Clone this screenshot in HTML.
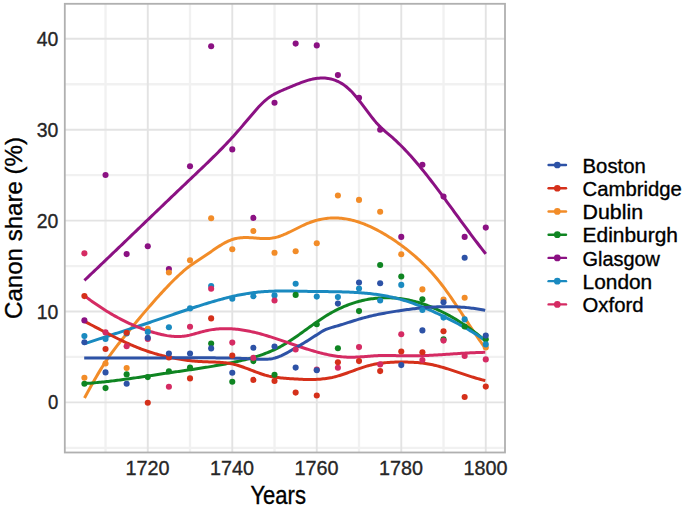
<!DOCTYPE html>
<html><head><meta charset="utf-8"><style>
html,body{margin:0;padding:0;background:#fff;}
svg{display:block;}
text{font-family:"Liberation Sans",sans-serif;}
</style></head><body>
<svg width="685" height="506" viewBox="0 0 685 506">
<rect width="685" height="506" fill="#fff"/>

<line x1="105.53" y1="3.8" x2="105.53" y2="452.5" stroke="#f1f1f1" stroke-width="2.3"/>
<line x1="190.02" y1="3.8" x2="190.02" y2="452.5" stroke="#f1f1f1" stroke-width="2.3"/>
<line x1="274.52" y1="3.8" x2="274.52" y2="452.5" stroke="#f1f1f1" stroke-width="2.3"/>
<line x1="359.02" y1="3.8" x2="359.02" y2="452.5" stroke="#f1f1f1" stroke-width="2.3"/>
<line x1="443.52" y1="3.8" x2="443.52" y2="452.5" stroke="#f1f1f1" stroke-width="2.3"/>
<line x1="64.8" y1="447.85" x2="505.0" y2="447.85" stroke="#f1f1f1" stroke-width="2.3"/>
<line x1="64.8" y1="356.95" x2="505.0" y2="356.95" stroke="#f1f1f1" stroke-width="2.3"/>
<line x1="64.8" y1="266.05" x2="505.0" y2="266.05" stroke="#f1f1f1" stroke-width="2.3"/>
<line x1="64.8" y1="175.15" x2="505.0" y2="175.15" stroke="#f1f1f1" stroke-width="2.3"/>
<line x1="64.8" y1="84.25" x2="505.0" y2="84.25" stroke="#f1f1f1" stroke-width="2.3"/>
<line x1="147.78" y1="3.8" x2="147.78" y2="452.5" stroke="#e3e3e3" stroke-width="1.9"/>
<line x1="232.28" y1="3.8" x2="232.28" y2="452.5" stroke="#e3e3e3" stroke-width="1.9"/>
<line x1="316.77" y1="3.8" x2="316.77" y2="452.5" stroke="#e3e3e3" stroke-width="1.9"/>
<line x1="401.27" y1="3.8" x2="401.27" y2="452.5" stroke="#e3e3e3" stroke-width="1.9"/>
<line x1="485.77" y1="3.8" x2="485.77" y2="452.5" stroke="#e3e3e3" stroke-width="1.9"/>
<line x1="64.8" y1="402.40" x2="505.0" y2="402.40" stroke="#e3e3e3" stroke-width="1.9"/>
<line x1="64.8" y1="311.50" x2="505.0" y2="311.50" stroke="#e3e3e3" stroke-width="1.9"/>
<line x1="64.8" y1="220.60" x2="505.0" y2="220.60" stroke="#e3e3e3" stroke-width="1.9"/>
<line x1="64.8" y1="129.70" x2="505.0" y2="129.70" stroke="#e3e3e3" stroke-width="1.9"/>
<line x1="64.8" y1="38.80" x2="505.0" y2="38.80" stroke="#e3e3e3" stroke-width="1.9"/>
<path d="M84.40,280.40 L85.90,278.98 L87.41,277.56 L88.91,276.13 L90.41,274.71 L91.92,273.28 L93.42,271.85 L94.92,270.42 L96.43,268.99 L97.93,267.56 L99.43,266.13 L100.94,264.70 L102.44,263.26 L103.94,261.83 L105.45,260.39 L106.95,258.96 L108.45,257.52 L109.96,256.08 L111.46,254.64 L112.96,253.20 L114.47,251.76 L115.97,250.32 L117.47,248.88 L118.98,247.44 L120.48,246.00 L121.98,244.56 L123.49,243.11 L124.99,241.67 L126.49,240.23 L128.00,238.78 L129.50,237.34 L131.00,235.89 L132.51,234.45 L134.01,233.01 L135.51,231.56 L137.02,230.12 L138.52,228.67 L140.02,227.23 L141.53,225.78 L143.03,224.34 L144.53,222.89 L146.04,221.45 L147.54,220.00 L149.04,218.56 L150.55,217.11 L152.05,215.67 L153.56,214.23 L155.06,212.78 L156.56,211.34 L158.07,209.90 L159.57,208.46 L161.07,207.01 L162.58,205.57 L164.08,204.13 L165.58,202.69 L167.09,201.25 L168.59,199.82 L170.09,198.38 L171.60,196.94 L173.10,195.50 L174.60,194.07 L176.11,192.63 L177.61,191.20 L179.11,189.77 L180.62,188.33 L182.12,186.90 L183.62,185.47 L185.13,184.04 L186.63,182.62 L188.13,181.19 L189.64,179.76 L191.14,178.34 L192.64,176.92 L194.15,175.49 L195.65,174.07 L197.15,172.64 L198.66,171.21 L200.16,169.78 L201.66,168.35 L203.17,166.91 L204.67,165.47 L206.17,164.02 L207.68,162.57 L209.18,161.11 L210.68,159.65 L212.19,158.17 L213.69,156.69 L215.19,155.20 L216.70,153.70 L218.20,152.19 L219.70,150.67 L221.21,149.14 L222.71,147.59 L224.21,146.04 L225.72,144.47 L227.22,142.88 L228.72,141.28 L230.23,139.67 L231.73,138.03 L233.23,136.39 L234.74,134.72 L236.24,133.04 L237.74,131.34 L239.25,129.62 L240.75,127.88 L242.25,126.12 L243.76,124.34 L245.26,122.56 L246.76,120.76 L248.27,118.97 L249.77,117.19 L251.27,115.41 L252.78,113.65 L254.28,111.91 L255.78,110.19 L257.29,108.51 L258.79,106.86 L260.29,105.27 L261.80,103.73 L263.30,102.26 L264.80,100.87 L266.31,99.56 L267.81,98.34 L269.31,97.23 L270.82,96.22 L272.32,95.30 L273.82,94.45 L275.33,93.65 L276.83,92.88 L278.33,92.15 L279.84,91.45 L281.34,90.76 L282.84,90.10 L284.35,89.46 L285.85,88.82 L287.36,88.20 L288.86,87.58 L290.36,86.96 L291.87,86.34 L293.37,85.72 L294.87,85.10 L296.38,84.48 L297.88,83.88 L299.38,83.28 L300.89,82.70 L302.39,82.14 L303.89,81.61 L305.40,81.10 L306.90,80.62 L308.40,80.17 L309.91,79.76 L311.41,79.38 L312.91,79.05 L314.42,78.75 L315.92,78.50 L317.42,78.30 L318.93,78.15 L320.43,78.05 L321.93,78.00 L323.44,78.01 L324.94,78.07 L326.44,78.20 L327.95,78.39 L329.45,78.65 L330.95,78.98 L332.46,79.38 L333.96,79.85 L335.46,80.39 L336.97,81.02 L338.47,81.72 L339.97,82.51 L341.48,83.38 L342.98,84.34 L344.48,85.39 L345.99,86.53 L347.49,87.77 L348.99,89.10 L350.50,90.54 L352.00,92.07 L353.50,93.70 L355.01,95.42 L356.51,97.22 L358.01,99.08 L359.52,100.99 L361.02,102.95 L362.52,104.94 L364.03,106.94 L365.53,108.96 L367.03,110.97 L368.54,112.97 L370.04,114.95 L371.54,116.89 L373.05,118.78 L374.55,120.61 L376.05,122.38 L377.56,124.06 L379.06,125.65 L380.56,127.16 L382.07,128.59 L383.57,129.97 L385.07,131.30 L386.58,132.60 L388.08,133.88 L389.58,135.16 L391.09,136.44 L392.59,137.74 L394.09,139.08 L395.60,140.45 L397.10,141.86 L398.60,143.30 L400.11,144.77 L401.61,146.27 L403.11,147.80 L404.62,149.36 L406.12,150.94 L407.62,152.56 L409.13,154.20 L410.63,155.87 L412.13,157.56 L413.64,159.28 L415.14,161.02 L416.64,162.79 L418.15,164.57 L419.65,166.38 L421.16,168.20 L422.66,170.05 L424.16,171.91 L425.67,173.79 L427.17,175.69 L428.67,177.61 L430.18,179.54 L431.68,181.48 L433.18,183.44 L434.69,185.41 L436.19,187.39 L437.69,189.38 L439.20,191.38 L440.70,193.39 L442.20,195.41 L443.71,197.44 L445.21,199.48 L446.71,201.52 L448.22,203.56 L449.72,205.61 L451.22,207.66 L452.73,209.72 L454.23,211.78 L455.73,213.84 L457.24,215.89 L458.74,217.95 L460.24,220.01 L461.75,222.06 L463.25,224.11 L464.75,226.16 L466.26,228.20 L467.76,230.24 L469.26,232.26 L470.77,234.29 L472.27,236.30 L473.77,238.30 L475.28,240.30 L476.78,242.28 L478.28,244.26 L479.79,246.22 L481.29,248.16 L482.79,250.10 L484.30,252.01 L485.80,253.92" fill="none" stroke="#8b1183" stroke-width="3.0" stroke-linecap="butt" stroke-linejoin="round"/>
<path d="M84.50,397.92 L86.00,395.17 L87.50,392.43 L89.01,389.71 L90.51,387.00 L92.01,384.32 L93.51,381.66 L95.01,379.03 L96.51,376.43 L98.02,373.88 L99.52,371.36 L101.02,368.89 L102.52,366.47 L104.02,364.11 L105.53,361.80 L107.03,359.56 L108.53,357.37 L110.03,355.24 L111.53,353.15 L113.04,351.11 L114.54,349.11 L116.04,347.14 L117.54,345.20 L119.04,343.28 L120.54,341.39 L122.05,339.50 L123.55,337.63 L125.05,335.76 L126.55,333.90 L128.05,332.04 L129.56,330.19 L131.06,328.35 L132.56,326.51 L134.06,324.69 L135.56,322.86 L137.07,321.05 L138.57,319.25 L140.07,317.45 L141.57,315.66 L143.07,313.89 L144.57,312.12 L146.08,310.36 L147.58,308.61 L149.08,306.87 L150.58,305.15 L152.08,303.43 L153.59,301.73 L155.09,300.03 L156.59,298.35 L158.09,296.68 L159.59,295.03 L161.10,293.38 L162.60,291.75 L164.10,290.13 L165.60,288.53 L167.10,286.94 L168.60,285.37 L170.11,283.81 L171.61,282.28 L173.11,280.77 L174.61,279.28 L176.11,277.82 L177.62,276.39 L179.12,274.98 L180.62,273.61 L182.12,272.27 L183.62,270.96 L185.13,269.69 L186.63,268.46 L188.13,267.27 L189.63,266.13 L191.13,265.02 L192.63,263.96 L194.14,262.92 L195.64,261.91 L197.14,260.91 L198.64,259.93 L200.14,258.96 L201.65,257.98 L203.15,257.01 L204.65,256.02 L206.15,255.01 L207.65,253.99 L209.16,252.96 L210.66,251.92 L212.16,250.88 L213.66,249.85 L215.16,248.83 L216.66,247.82 L218.17,246.83 L219.67,245.87 L221.17,244.94 L222.67,244.05 L224.17,243.19 L225.68,242.38 L227.18,241.63 L228.68,240.92 L230.18,240.28 L231.68,239.71 L233.19,239.20 L234.69,238.77 L236.19,238.42 L237.69,238.13 L239.19,237.91 L240.69,237.75 L242.20,237.63 L243.70,237.57 L245.20,237.54 L246.70,237.55 L248.20,237.60 L249.71,237.67 L251.21,237.75 L252.71,237.86 L254.21,237.97 L255.71,238.08 L257.22,238.20 L258.72,238.31 L260.22,238.40 L261.72,238.48 L263.22,238.54 L264.72,238.56 L266.23,238.56 L267.73,238.51 L269.23,238.42 L270.73,238.28 L272.23,238.09 L273.74,237.83 L275.24,237.51 L276.74,237.13 L278.24,236.70 L279.74,236.21 L281.25,235.68 L282.75,235.10 L284.25,234.48 L285.75,233.84 L287.25,233.16 L288.75,232.46 L290.26,231.73 L291.76,230.99 L293.26,230.25 L294.76,229.49 L296.26,228.73 L297.77,227.97 L299.27,227.22 L300.77,226.48 L302.27,225.76 L303.77,225.06 L305.28,224.38 L306.78,223.73 L308.28,223.11 L309.78,222.53 L311.28,221.99 L312.78,221.47 L314.29,221.00 L315.79,220.55 L317.29,220.14 L318.79,219.77 L320.29,219.43 L321.80,219.13 L323.30,218.86 L324.80,218.62 L326.30,218.42 L327.80,218.25 L329.31,218.12 L330.81,218.02 L332.31,217.95 L333.81,217.92 L335.31,217.92 L336.81,217.96 L338.32,218.03 L339.82,218.13 L341.32,218.27 L342.82,218.44 L344.32,218.64 L345.83,218.87 L347.33,219.13 L348.83,219.42 L350.33,219.75 L351.83,220.10 L353.34,220.48 L354.84,220.89 L356.34,221.33 L357.84,221.79 L359.34,222.28 L360.84,222.80 L362.35,223.35 L363.85,223.92 L365.35,224.51 L366.85,225.14 L368.35,225.78 L369.86,226.45 L371.36,227.15 L372.86,227.86 L374.36,228.60 L375.86,229.36 L377.37,230.15 L378.87,230.95 L380.37,231.78 L381.87,232.63 L383.37,233.49 L384.87,234.38 L386.38,235.28 L387.88,236.21 L389.38,237.15 L390.88,238.11 L392.38,239.09 L393.89,240.08 L395.39,241.10 L396.89,242.13 L398.39,243.18 L399.89,244.25 L401.40,245.35 L402.90,246.46 L404.40,247.60 L405.90,248.75 L407.40,249.93 L408.90,251.13 L410.41,252.36 L411.91,253.61 L413.41,254.88 L414.91,256.18 L416.41,257.50 L417.92,258.84 L419.42,260.22 L420.92,261.62 L422.42,263.05 L423.92,264.51 L425.43,266.00 L426.93,267.52 L428.43,269.08 L429.93,270.68 L431.43,272.31 L432.93,273.99 L434.44,275.70 L435.94,277.46 L437.44,279.27 L438.94,281.12 L440.44,283.02 L441.95,284.96 L443.45,286.95 L444.95,288.97 L446.45,291.03 L447.95,293.12 L449.46,295.25 L450.96,297.40 L452.46,299.58 L453.96,301.79 L455.46,304.01 L456.96,306.25 L458.47,308.50 L459.97,310.77 L461.47,313.05 L462.97,315.33 L464.47,317.62 L465.98,319.90 L467.48,322.19 L468.98,324.47 L470.48,326.75 L471.98,329.01 L473.49,331.26 L474.99,333.50 L476.49,335.72 L477.99,337.92 L479.49,340.10 L480.99,342.24 L482.50,344.37 L484.00,346.45 L485.50,348.51" fill="none" stroke="#f28c28" stroke-width="3.0" stroke-linecap="butt" stroke-linejoin="round"/>
<path d="M84.20,383.56 L85.70,383.46 L87.21,383.36 L88.71,383.25 L90.21,383.13 L91.71,383.01 L93.22,382.89 L94.72,382.76 L96.22,382.63 L97.73,382.49 L99.23,382.34 L100.73,382.20 L102.24,382.04 L103.74,381.89 L105.24,381.73 L106.74,381.56 L108.25,381.40 L109.75,381.23 L111.25,381.05 L112.76,380.87 L114.26,380.69 L115.76,380.51 L117.27,380.32 L118.77,380.13 L120.27,379.93 L121.77,379.74 L123.28,379.54 L124.78,379.33 L126.28,379.13 L127.79,378.92 L129.29,378.72 L130.79,378.50 L132.30,378.29 L133.80,378.08 L135.30,377.86 L136.80,377.64 L138.31,377.43 L139.81,377.21 L141.31,376.98 L142.82,376.76 L144.32,376.54 L145.82,376.31 L147.33,376.09 L148.83,375.86 L150.33,375.64 L151.83,375.41 L153.34,375.19 L154.84,374.96 L156.34,374.73 L157.85,374.51 L159.35,374.28 L160.85,374.05 L162.36,373.83 L163.86,373.60 L165.36,373.38 L166.86,373.16 L168.37,372.93 L169.87,372.71 L171.37,372.49 L172.88,372.27 L174.38,372.06 L175.88,371.84 L177.39,371.62 L178.89,371.40 L180.39,371.19 L181.89,370.97 L183.40,370.75 L184.90,370.53 L186.40,370.31 L187.91,370.10 L189.41,369.88 L190.91,369.65 L192.42,369.43 L193.92,369.21 L195.42,368.98 L196.92,368.76 L198.43,368.53 L199.93,368.30 L201.43,368.07 L202.94,367.83 L204.44,367.59 L205.94,367.35 L207.45,367.11 L208.95,366.86 L210.45,366.62 L211.95,366.36 L213.46,366.11 L214.96,365.85 L216.46,365.59 L217.97,365.32 L219.47,365.05 L220.97,364.77 L222.48,364.49 L223.98,364.21 L225.48,363.92 L226.98,363.63 L228.49,363.33 L229.99,363.03 L231.49,362.72 L233.00,362.41 L234.50,362.09 L236.00,361.76 L237.51,361.43 L239.01,361.09 L240.51,360.75 L242.01,360.40 L243.52,360.04 L245.02,359.67 L246.52,359.30 L248.03,358.91 L249.53,358.51 L251.03,358.11 L252.54,357.68 L254.04,357.25 L255.54,356.80 L257.04,356.34 L258.55,355.86 L260.05,355.37 L261.55,354.86 L263.06,354.33 L264.56,353.78 L266.06,353.21 L267.57,352.62 L269.07,352.01 L270.57,351.38 L272.07,350.72 L273.58,350.04 L275.08,349.34 L276.58,348.61 L278.09,347.86 L279.59,347.08 L281.09,346.27 L282.60,345.43 L284.10,344.56 L285.60,343.67 L287.10,342.75 L288.61,341.80 L290.11,340.83 L291.61,339.84 L293.12,338.83 L294.62,337.80 L296.12,336.76 L297.63,335.71 L299.13,334.64 L300.63,333.56 L302.13,332.48 L303.64,331.39 L305.14,330.30 L306.64,329.21 L308.15,328.12 L309.65,327.03 L311.15,325.94 L312.66,324.87 L314.16,323.80 L315.66,322.74 L317.16,321.69 L318.67,320.66 L320.17,319.64 L321.67,318.64 L323.18,317.66 L324.68,316.71 L326.18,315.78 L327.69,314.87 L329.19,313.98 L330.69,313.13 L332.19,312.29 L333.70,311.48 L335.20,310.69 L336.70,309.93 L338.21,309.19 L339.71,308.48 L341.21,307.79 L342.72,307.12 L344.22,306.48 L345.72,305.86 L347.22,305.26 L348.73,304.69 L350.23,304.14 L351.73,303.61 L353.24,303.11 L354.74,302.63 L356.24,302.17 L357.75,301.73 L359.25,301.32 L360.75,300.93 L362.25,300.57 L363.76,300.22 L365.26,299.90 L366.76,299.61 L368.27,299.33 L369.77,299.08 L371.27,298.85 L372.78,298.64 L374.28,298.45 L375.78,298.28 L377.28,298.14 L378.79,298.02 L380.29,297.92 L381.79,297.84 L383.30,297.79 L384.80,297.76 L386.30,297.74 L387.81,297.75 L389.31,297.78 L390.81,297.83 L392.31,297.91 L393.82,298.00 L395.32,298.12 L396.82,298.25 L398.33,298.41 L399.83,298.59 L401.33,298.79 L402.84,299.00 L404.34,299.24 L405.84,299.51 L407.34,299.79 L408.85,300.09 L410.35,300.41 L411.85,300.75 L413.36,301.11 L414.86,301.50 L416.36,301.90 L417.87,302.32 L419.37,302.76 L420.87,303.22 L422.37,303.71 L423.88,304.21 L425.38,304.73 L426.88,305.27 L428.39,305.83 L429.89,306.41 L431.39,307.01 L432.90,307.62 L434.40,308.26 L435.90,308.92 L437.40,309.59 L438.91,310.29 L440.41,311.00 L441.91,311.73 L443.42,312.48 L444.92,313.25 L446.42,314.04 L447.93,314.84 L449.43,315.67 L450.93,316.51 L452.43,317.37 L453.94,318.25 L455.44,319.14 L456.94,320.06 L458.45,320.99 L459.95,321.94 L461.45,322.91 L462.96,323.90 L464.46,324.90 L465.96,325.92 L467.46,326.96 L468.97,328.02 L470.47,329.09 L471.97,330.18 L473.48,331.29 L474.98,332.41 L476.48,333.55 L477.99,334.71 L479.49,335.89 L480.99,337.08 L482.49,338.29 L484.00,339.52 L485.50,340.76" fill="none" stroke="#0f8522" stroke-width="3.0" stroke-linecap="butt" stroke-linejoin="round"/>
<path d="M84.20,343.85 L85.70,343.35 L87.21,342.86 L88.71,342.37 L90.21,341.88 L91.71,341.39 L93.22,340.90 L94.72,340.41 L96.22,339.92 L97.73,339.43 L99.23,338.94 L100.73,338.45 L102.24,337.96 L103.74,337.47 L105.24,336.98 L106.74,336.49 L108.25,336.00 L109.75,335.51 L111.25,335.02 L112.76,334.53 L114.26,334.04 L115.76,333.55 L117.27,333.06 L118.77,332.57 L120.27,332.08 L121.77,331.59 L123.28,331.10 L124.78,330.61 L126.28,330.12 L127.79,329.63 L129.29,329.14 L130.79,328.65 L132.30,328.16 L133.80,327.67 L135.30,327.18 L136.80,326.69 L138.31,326.20 L139.81,325.70 L141.31,325.21 L142.82,324.71 L144.32,324.22 L145.82,323.72 L147.33,323.22 L148.83,322.71 L150.33,322.21 L151.83,321.70 L153.34,321.20 L154.84,320.69 L156.34,320.18 L157.85,319.67 L159.35,319.16 L160.85,318.65 L162.36,318.13 L163.86,317.62 L165.36,317.11 L166.86,316.60 L168.37,316.08 L169.87,315.57 L171.37,315.06 L172.88,314.55 L174.38,314.04 L175.88,313.53 L177.39,313.02 L178.89,312.51 L180.39,312.00 L181.89,311.50 L183.40,310.99 L184.90,310.49 L186.40,309.99 L187.91,309.49 L189.41,308.99 L190.91,308.50 L192.42,308.01 L193.92,307.52 L195.42,307.03 L196.92,306.55 L198.43,306.06 L199.93,305.59 L201.43,305.11 L202.94,304.64 L204.44,304.17 L205.94,303.71 L207.45,303.25 L208.95,302.79 L210.45,302.34 L211.95,301.89 L213.46,301.45 L214.96,301.01 L216.46,300.58 L217.97,300.16 L219.47,299.74 L220.97,299.33 L222.48,298.93 L223.98,298.53 L225.48,298.14 L226.98,297.76 L228.49,297.39 L229.99,297.02 L231.49,296.66 L233.00,296.32 L234.50,295.98 L236.00,295.65 L237.51,295.33 L239.01,295.02 L240.51,294.73 L242.01,294.44 L243.52,294.16 L245.02,293.90 L246.52,293.64 L248.03,293.40 L249.53,293.17 L251.03,292.96 L252.54,292.75 L254.04,292.56 L255.54,292.39 L257.04,292.22 L258.55,292.07 L260.05,291.93 L261.55,291.80 L263.06,291.69 L264.56,291.58 L266.06,291.49 L267.57,291.40 L269.07,291.33 L270.57,291.26 L272.07,291.20 L273.58,291.16 L275.08,291.12 L276.58,291.08 L278.09,291.06 L279.59,291.04 L281.09,291.03 L282.60,291.02 L284.10,291.02 L285.60,291.02 L287.10,291.03 L288.61,291.04 L290.11,291.06 L291.61,291.08 L293.12,291.10 L294.62,291.13 L296.12,291.15 L297.63,291.18 L299.13,291.21 L300.63,291.24 L302.13,291.27 L303.64,291.30 L305.14,291.33 L306.64,291.36 L308.15,291.39 L309.65,291.41 L311.15,291.44 L312.66,291.46 L314.16,291.48 L315.66,291.49 L317.16,291.51 L318.67,291.53 L320.17,291.54 L321.67,291.56 L323.18,291.57 L324.68,291.59 L326.18,291.60 L327.69,291.62 L329.19,291.63 L330.69,291.65 L332.19,291.67 L333.70,291.70 L335.20,291.72 L336.70,291.75 L338.21,291.78 L339.71,291.81 L341.21,291.85 L342.72,291.89 L344.22,291.93 L345.72,291.98 L347.22,292.04 L348.73,292.10 L350.23,292.16 L351.73,292.23 L353.24,292.30 L354.74,292.39 L356.24,292.47 L357.75,292.57 L359.25,292.67 L360.75,292.78 L362.25,292.90 L363.76,293.02 L365.26,293.15 L366.76,293.30 L368.27,293.45 L369.77,293.61 L371.27,293.77 L372.78,293.95 L374.28,294.14 L375.78,294.34 L377.28,294.55 L378.79,294.77 L380.29,295.00 L381.79,295.24 L383.30,295.50 L384.80,295.77 L386.30,296.04 L387.81,296.34 L389.31,296.64 L390.81,296.96 L392.31,297.29 L393.82,297.64 L395.32,298.00 L396.82,298.37 L398.33,298.76 L399.83,299.16 L401.33,299.58 L402.84,300.02 L404.34,300.46 L405.84,300.93 L407.34,301.41 L408.85,301.90 L410.35,302.40 L411.85,302.92 L413.36,303.45 L414.86,304.00 L416.36,304.55 L417.87,305.12 L419.37,305.70 L420.87,306.30 L422.37,306.90 L423.88,307.51 L425.38,308.14 L426.88,308.77 L428.39,309.42 L429.89,310.08 L431.39,310.74 L432.90,311.42 L434.40,312.10 L435.90,312.79 L437.40,313.49 L438.91,314.20 L440.41,314.91 L441.91,315.64 L443.42,316.37 L444.92,317.11 L446.42,317.85 L447.93,318.60 L449.43,319.36 L450.93,320.12 L452.43,320.89 L453.94,321.66 L455.44,322.45 L456.94,323.24 L458.45,324.04 L459.95,324.85 L461.45,325.67 L462.96,326.50 L464.46,327.34 L465.96,328.20 L467.46,329.07 L468.97,329.95 L470.47,330.84 L471.97,331.75 L473.48,332.67 L474.98,333.61 L476.48,334.57 L477.99,335.54 L479.49,336.53 L480.99,337.54 L482.49,338.56 L484.00,339.61 L485.50,340.68" fill="none" stroke="#1a8ac0" stroke-width="3.0" stroke-linecap="butt" stroke-linejoin="round"/>
<path d="M84.60,295.90 L86.10,297.03 L87.60,298.16 L89.10,299.26 L90.60,300.35 L92.10,301.43 L93.60,302.49 L95.11,303.54 L96.61,304.58 L98.11,305.60 L99.61,306.60 L101.11,307.59 L102.61,308.57 L104.11,309.53 L105.61,310.47 L107.11,311.40 L108.61,312.32 L110.11,313.22 L111.61,314.10 L113.11,314.97 L114.61,315.83 L116.12,316.67 L117.62,317.49 L119.12,318.30 L120.62,319.09 L122.12,319.87 L123.62,320.63 L125.12,321.38 L126.62,322.11 L128.12,322.82 L129.62,323.52 L131.12,324.20 L132.62,324.87 L134.12,325.52 L135.63,326.16 L137.13,326.78 L138.63,327.38 L140.13,327.96 L141.63,328.53 L143.13,329.09 L144.63,329.63 L146.13,330.15 L147.63,330.65 L149.13,331.14 L150.63,331.61 L152.13,332.06 L153.63,332.50 L155.14,332.92 L156.64,333.32 L158.14,333.71 L159.64,334.08 L161.14,334.43 L162.64,334.76 L164.14,335.08 L165.64,335.36 L167.14,335.63 L168.64,335.86 L170.14,336.06 L171.64,336.23 L173.14,336.37 L174.64,336.47 L176.15,336.53 L177.65,336.56 L179.15,336.53 L180.65,336.47 L182.15,336.35 L183.65,336.19 L185.15,335.97 L186.65,335.72 L188.15,335.42 L189.65,335.10 L191.15,334.74 L192.65,334.36 L194.15,333.97 L195.66,333.56 L197.16,333.14 L198.66,332.72 L200.16,332.31 L201.66,331.90 L203.16,331.50 L204.66,331.12 L206.16,330.77 L207.66,330.45 L209.16,330.15 L210.66,329.88 L212.16,329.64 L213.66,329.42 L215.17,329.23 L216.67,329.07 L218.17,328.94 L219.67,328.83 L221.17,328.74 L222.67,328.68 L224.17,328.64 L225.67,328.63 L227.17,328.64 L228.67,328.67 L230.17,328.73 L231.67,328.80 L233.17,328.90 L234.67,329.02 L236.18,329.16 L237.68,329.32 L239.18,329.50 L240.68,329.70 L242.18,329.92 L243.68,330.16 L245.18,330.41 L246.68,330.68 L248.18,330.97 L249.68,331.28 L251.18,331.60 L252.68,331.93 L254.18,332.28 L255.69,332.65 L257.19,333.02 L258.69,333.41 L260.19,333.81 L261.69,334.23 L263.19,334.65 L264.69,335.09 L266.19,335.53 L267.69,335.98 L269.19,336.45 L270.69,336.92 L272.19,337.39 L273.69,337.88 L275.20,338.37 L276.70,338.86 L278.20,339.36 L279.70,339.86 L281.20,340.37 L282.70,340.88 L284.20,341.40 L285.70,341.91 L287.20,342.43 L288.70,342.94 L290.20,343.46 L291.70,343.98 L293.20,344.49 L294.70,345.00 L296.21,345.51 L297.71,346.02 L299.21,346.53 L300.71,347.03 L302.21,347.52 L303.71,348.01 L305.21,348.50 L306.71,348.97 L308.21,349.44 L309.71,349.90 L311.21,350.36 L312.71,350.80 L314.21,351.24 L315.72,351.66 L317.22,352.08 L318.72,352.48 L320.22,352.87 L321.72,353.25 L323.22,353.61 L324.72,353.96 L326.22,354.30 L327.72,354.62 L329.22,354.93 L330.72,355.22 L332.22,355.49 L333.72,355.74 L335.23,355.98 L336.73,356.20 L338.23,356.40 L339.73,356.58 L341.23,356.74 L342.73,356.87 L344.23,356.99 L345.73,357.08 L347.23,357.15 L348.73,357.20 L350.23,357.22 L351.73,357.22 L353.23,357.20 L354.73,357.17 L356.24,357.11 L357.74,357.04 L359.24,356.96 L360.74,356.86 L362.24,356.76 L363.74,356.65 L365.24,356.53 L366.74,356.42 L368.24,356.30 L369.74,356.18 L371.24,356.07 L372.74,355.96 L374.24,355.86 L375.75,355.77 L377.25,355.69 L378.75,355.62 L380.25,355.57 L381.75,355.53 L383.25,355.51 L384.75,355.49 L386.25,355.49 L387.75,355.50 L389.25,355.51 L390.75,355.53 L392.25,355.55 L393.75,355.58 L395.26,355.61 L396.76,355.65 L398.26,355.68 L399.76,355.72 L401.26,355.75 L402.76,355.78 L404.26,355.80 L405.76,355.83 L407.26,355.84 L408.76,355.85 L410.26,355.85 L411.76,355.84 L413.26,355.83 L414.76,355.81 L416.27,355.78 L417.77,355.75 L419.27,355.71 L420.77,355.67 L422.27,355.62 L423.77,355.57 L425.27,355.51 L426.77,355.44 L428.27,355.38 L429.77,355.31 L431.27,355.23 L432.77,355.15 L434.27,355.07 L435.78,354.99 L437.28,354.90 L438.78,354.81 L440.28,354.72 L441.78,354.63 L443.28,354.53 L444.78,354.44 L446.28,354.34 L447.78,354.24 L449.28,354.14 L450.78,354.04 L452.28,353.95 L453.78,353.85 L455.29,353.75 L456.79,353.65 L458.29,353.56 L459.79,353.47 L461.29,353.37 L462.79,353.28 L464.29,353.19 L465.79,353.11 L467.29,353.03 L468.79,352.95 L470.29,352.87 L471.79,352.80 L473.29,352.73 L474.79,352.66 L476.30,352.60 L477.80,352.54 L479.30,352.49 L480.80,352.45 L482.30,352.40 L483.80,352.37 L485.30,352.34" fill="none" stroke="#d52b63" stroke-width="3.0" stroke-linecap="butt" stroke-linejoin="round"/>
<path d="M84.40,321.33 L85.90,322.11 L87.40,322.89 L88.90,323.67 L90.41,324.46 L91.91,325.24 L93.41,326.03 L94.91,326.82 L96.41,327.62 L97.91,328.41 L99.41,329.20 L100.92,329.99 L102.42,330.78 L103.92,331.57 L105.42,332.36 L106.92,333.14 L108.42,333.92 L109.93,334.69 L111.43,335.46 L112.93,336.23 L114.43,336.99 L115.93,337.74 L117.43,338.49 L118.93,339.23 L120.44,339.96 L121.94,340.68 L123.44,341.40 L124.94,342.10 L126.44,342.79 L127.94,343.48 L129.44,344.15 L130.95,344.81 L132.45,345.46 L133.95,346.10 L135.45,346.72 L136.95,347.33 L138.45,347.92 L139.96,348.51 L141.46,349.07 L142.96,349.63 L144.46,350.17 L145.96,350.70 L147.46,351.21 L148.96,351.72 L150.47,352.21 L151.97,352.68 L153.47,353.14 L154.97,353.60 L156.47,354.03 L157.97,354.46 L159.47,354.87 L160.98,355.27 L162.48,355.66 L163.98,356.03 L165.48,356.40 L166.98,356.75 L168.48,357.09 L169.99,357.41 L171.49,357.73 L172.99,358.03 L174.49,358.32 L175.99,358.60 L177.49,358.87 L178.99,359.12 L180.50,359.37 L182.00,359.60 L183.50,359.82 L185.00,360.03 L186.50,360.23 L188.00,360.42 L189.50,360.59 L191.01,360.76 L192.51,360.91 L194.01,361.06 L195.51,361.19 L197.01,361.31 L198.51,361.42 L200.02,361.52 L201.52,361.61 L203.02,361.69 L204.52,361.76 L206.02,361.82 L207.52,361.87 L209.02,361.92 L210.53,361.96 L212.03,362.00 L213.53,362.05 L215.03,362.09 L216.53,362.15 L218.03,362.22 L219.53,362.30 L221.04,362.40 L222.54,362.51 L224.04,362.65 L225.54,362.81 L227.04,363.00 L228.54,363.21 L230.05,363.46 L231.55,363.75 L233.05,364.07 L234.55,364.43 L236.05,364.83 L237.55,365.26 L239.05,365.72 L240.56,366.21 L242.06,366.72 L243.56,367.25 L245.06,367.80 L246.56,368.37 L248.06,368.94 L249.56,369.52 L251.07,370.11 L252.57,370.69 L254.07,371.27 L255.57,371.85 L257.07,372.41 L258.57,372.96 L260.08,373.49 L261.58,374.00 L263.08,374.49 L264.58,374.95 L266.08,375.37 L267.58,375.76 L269.08,376.12 L270.59,376.44 L272.09,376.73 L273.59,376.99 L275.09,377.22 L276.59,377.43 L278.09,377.61 L279.59,377.78 L281.10,377.93 L282.60,378.07 L284.10,378.20 L285.60,378.31 L287.10,378.42 L288.60,378.53 L290.11,378.63 L291.61,378.73 L293.11,378.84 L294.61,378.93 L296.11,379.03 L297.61,379.11 L299.11,379.19 L300.62,379.27 L302.12,379.34 L303.62,379.39 L305.12,379.44 L306.62,379.48 L308.12,379.50 L309.62,379.51 L311.13,379.51 L312.63,379.49 L314.13,379.45 L315.63,379.40 L317.13,379.33 L318.63,379.25 L320.14,379.14 L321.64,379.01 L323.14,378.86 L324.64,378.68 L326.14,378.48 L327.64,378.26 L329.14,378.01 L330.65,377.73 L332.15,377.43 L333.65,377.09 L335.15,376.73 L336.65,376.34 L338.15,375.92 L339.65,375.47 L341.16,375.00 L342.66,374.52 L344.16,374.02 L345.66,373.50 L347.16,372.97 L348.66,372.43 L350.17,371.89 L351.67,371.34 L353.17,370.79 L354.67,370.24 L356.17,369.69 L357.67,369.15 L359.17,368.62 L360.68,368.10 L362.18,367.59 L363.68,367.10 L365.18,366.63 L366.68,366.18 L368.18,365.75 L369.68,365.35 L371.19,364.98 L372.69,364.64 L374.19,364.32 L375.69,364.03 L377.19,363.76 L378.69,363.52 L380.20,363.30 L381.70,363.10 L383.20,362.92 L384.70,362.76 L386.20,362.62 L387.70,362.50 L389.20,362.39 L390.71,362.30 L392.21,362.22 L393.71,362.16 L395.21,362.11 L396.71,362.07 L398.21,362.04 L399.71,362.02 L401.22,362.02 L402.72,362.02 L404.22,362.03 L405.72,362.06 L407.22,362.09 L408.72,362.13 L410.23,362.18 L411.73,362.24 L413.23,362.31 L414.73,362.40 L416.23,362.50 L417.73,362.61 L419.23,362.74 L420.74,362.89 L422.24,363.06 L423.74,363.25 L425.24,363.45 L426.74,363.69 L428.24,363.94 L429.74,364.22 L431.25,364.52 L432.75,364.84 L434.25,365.17 L435.75,365.53 L437.25,365.90 L438.75,366.29 L440.26,366.70 L441.76,367.12 L443.26,367.55 L444.76,368.00 L446.26,368.45 L447.76,368.92 L449.26,369.39 L450.77,369.87 L452.27,370.36 L453.77,370.85 L455.27,371.35 L456.77,371.85 L458.27,372.35 L459.77,372.86 L461.28,373.36 L462.78,373.87 L464.28,374.37 L465.78,374.87 L467.28,375.36 L468.78,375.85 L470.29,376.34 L471.79,376.81 L473.29,377.28 L474.79,377.74 L476.29,378.19 L477.79,378.62 L479.29,379.05 L480.80,379.46 L482.30,379.86 L483.80,380.24 L485.30,380.60" fill="none" stroke="#d5301a" stroke-width="3.0" stroke-linecap="butt" stroke-linejoin="round"/>
<path d="M84.20,357.89 L85.70,357.89 L87.20,357.89 L88.71,357.89 L90.21,357.90 L91.71,357.90 L93.21,357.90 L94.71,357.90 L96.21,357.90 L97.72,357.90 L99.22,357.91 L100.72,357.91 L102.22,357.91 L103.72,357.91 L105.23,357.91 L106.73,357.91 L108.23,357.91 L109.73,357.91 L111.23,357.91 L112.74,357.91 L114.24,357.91 L115.74,357.91 L117.24,357.91 L118.74,357.91 L120.24,357.91 L121.75,357.91 L123.25,357.91 L124.75,357.91 L126.25,357.91 L127.75,357.91 L129.26,357.91 L130.76,357.91 L132.26,357.91 L133.76,357.91 L135.26,357.91 L136.77,357.91 L138.27,357.91 L139.77,357.91 L141.27,357.91 L142.77,357.90 L144.27,357.90 L145.78,357.90 L147.28,357.90 L148.78,357.90 L150.28,357.90 L151.78,357.90 L153.29,357.90 L154.79,357.89 L156.29,357.89 L157.79,357.89 L159.29,357.89 L160.80,357.89 L162.30,357.89 L163.80,357.88 L165.30,357.88 L166.80,357.88 L168.30,357.88 L169.81,357.88 L171.31,357.88 L172.81,357.87 L174.31,357.87 L175.81,357.87 L177.32,357.87 L178.82,357.87 L180.32,357.87 L181.82,357.86 L183.32,357.86 L184.83,357.86 L186.33,357.86 L187.83,357.86 L189.33,357.85 L190.83,357.85 L192.33,357.85 L193.84,357.85 L195.34,357.85 L196.84,357.85 L198.34,357.84 L199.84,357.84 L201.35,357.84 L202.85,357.84 L204.35,357.84 L205.85,357.84 L207.35,357.84 L208.86,357.85 L210.36,357.85 L211.86,357.86 L213.36,357.86 L214.86,357.87 L216.36,357.88 L217.87,357.89 L219.37,357.90 L220.87,357.92 L222.37,357.94 L223.87,357.95 L225.38,357.97 L226.88,358.00 L228.38,358.02 L229.88,358.05 L231.38,358.08 L232.89,358.12 L234.39,358.15 L235.89,358.19 L237.39,358.24 L238.89,358.28 L240.39,358.33 L241.90,358.39 L243.40,358.44 L244.90,358.50 L246.40,358.57 L247.90,358.63 L249.41,358.71 L250.91,358.78 L252.41,358.86 L253.91,358.95 L255.41,359.04 L256.92,359.13 L258.42,359.21 L259.92,359.28 L261.42,359.33 L262.92,359.36 L264.42,359.36 L265.93,359.32 L267.43,359.24 L268.93,359.11 L270.43,358.93 L271.93,358.69 L273.44,358.39 L274.94,358.01 L276.44,357.56 L277.94,357.04 L279.44,356.45 L280.95,355.81 L282.45,355.12 L283.95,354.39 L285.45,353.62 L286.95,352.82 L288.45,351.99 L289.96,351.14 L291.46,350.28 L292.96,349.42 L294.46,348.54 L295.96,347.67 L297.47,346.79 L298.97,345.90 L300.47,345.01 L301.97,344.11 L303.47,343.20 L304.98,342.29 L306.48,341.36 L307.98,340.43 L309.48,339.49 L310.98,338.54 L312.48,337.58 L313.99,336.60 L315.49,335.62 L316.99,334.63 L318.49,333.64 L319.99,332.67 L321.50,331.75 L323.00,330.89 L324.50,330.11 L326.00,329.42 L327.50,328.82 L329.01,328.30 L330.51,327.82 L332.01,327.39 L333.51,326.97 L335.01,326.56 L336.51,326.13 L338.02,325.69 L339.52,325.25 L341.02,324.79 L342.52,324.33 L344.02,323.86 L345.53,323.39 L347.03,322.92 L348.53,322.44 L350.03,321.96 L351.53,321.49 L353.04,321.02 L354.54,320.55 L356.04,320.08 L357.54,319.63 L359.04,319.18 L360.54,318.73 L362.05,318.30 L363.55,317.88 L365.05,317.48 L366.55,317.08 L368.05,316.70 L369.56,316.33 L371.06,315.97 L372.56,315.63 L374.06,315.29 L375.56,314.96 L377.07,314.64 L378.57,314.33 L380.07,314.03 L381.57,313.74 L383.07,313.46 L384.57,313.18 L386.08,312.90 L387.58,312.64 L389.08,312.38 L390.58,312.12 L392.08,311.87 L393.59,311.62 L395.09,311.38 L396.59,311.14 L398.09,310.91 L399.59,310.68 L401.10,310.45 L402.60,310.23 L404.10,310.01 L405.60,309.80 L407.10,309.60 L408.60,309.40 L410.11,309.20 L411.61,309.01 L413.11,308.83 L414.61,308.65 L416.11,308.48 L417.62,308.32 L419.12,308.16 L420.62,308.01 L422.12,307.86 L423.62,307.73 L425.13,307.60 L426.63,307.48 L428.13,307.36 L429.63,307.25 L431.13,307.16 L432.63,307.07 L434.14,306.98 L435.64,306.91 L437.14,306.84 L438.64,306.79 L440.14,306.74 L441.65,306.70 L443.15,306.68 L444.65,306.66 L446.15,306.65 L447.65,306.65 L449.16,306.66 L450.66,306.68 L452.16,306.71 L453.66,306.75 L455.16,306.81 L456.66,306.87 L458.17,306.94 L459.67,307.03 L461.17,307.13 L462.67,307.24 L464.17,307.36 L465.68,307.49 L467.18,307.63 L468.68,307.79 L470.18,307.96 L471.68,308.14 L473.19,308.34 L474.69,308.55 L476.19,308.77 L477.69,309.00 L479.19,309.25 L480.69,309.51 L482.20,309.79 L483.70,310.08 L485.20,310.38" fill="none" stroke="#2d52a6" stroke-width="3.0" stroke-linecap="butt" stroke-linejoin="round"/>
<circle cx="84.40" cy="320.40" r="3.05" fill="#8b1183"/>
<circle cx="105.53" cy="175.00" r="3.05" fill="#8b1183"/>
<circle cx="126.65" cy="254.10" r="3.05" fill="#8b1183"/>
<circle cx="147.78" cy="246.20" r="3.05" fill="#8b1183"/>
<circle cx="168.90" cy="269.00" r="3.05" fill="#8b1183"/>
<circle cx="190.02" cy="166.20" r="3.05" fill="#8b1183"/>
<circle cx="211.15" cy="46.30" r="3.05" fill="#8b1183"/>
<circle cx="232.28" cy="149.40" r="3.05" fill="#8b1183"/>
<circle cx="253.40" cy="217.90" r="3.05" fill="#8b1183"/>
<circle cx="274.52" cy="102.70" r="3.05" fill="#8b1183"/>
<circle cx="295.65" cy="43.60" r="3.05" fill="#8b1183"/>
<circle cx="316.77" cy="45.40" r="3.05" fill="#8b1183"/>
<circle cx="337.90" cy="75.10" r="3.05" fill="#8b1183"/>
<circle cx="359.02" cy="97.80" r="3.05" fill="#8b1183"/>
<circle cx="380.15" cy="129.80" r="3.05" fill="#8b1183"/>
<circle cx="401.27" cy="236.90" r="3.05" fill="#8b1183"/>
<circle cx="422.40" cy="164.80" r="3.05" fill="#8b1183"/>
<circle cx="443.52" cy="196.60" r="3.05" fill="#8b1183"/>
<circle cx="464.65" cy="236.90" r="3.05" fill="#8b1183"/>
<circle cx="485.77" cy="227.60" r="3.05" fill="#8b1183"/>
<circle cx="84.40" cy="377.70" r="3.05" fill="#f28c28"/>
<circle cx="105.53" cy="363.50" r="3.05" fill="#f28c28"/>
<circle cx="126.65" cy="368.00" r="3.05" fill="#f28c28"/>
<circle cx="147.78" cy="328.90" r="3.05" fill="#f28c28"/>
<circle cx="168.90" cy="272.50" r="3.05" fill="#f28c28"/>
<circle cx="190.02" cy="260.20" r="3.05" fill="#f28c28"/>
<circle cx="211.15" cy="218.30" r="3.05" fill="#f28c28"/>
<circle cx="232.28" cy="249.20" r="3.05" fill="#f28c28"/>
<circle cx="253.40" cy="231.00" r="3.05" fill="#f28c28"/>
<circle cx="274.52" cy="252.80" r="3.05" fill="#f28c28"/>
<circle cx="295.65" cy="251.20" r="3.05" fill="#f28c28"/>
<circle cx="316.77" cy="243.20" r="3.05" fill="#f28c28"/>
<circle cx="337.90" cy="195.50" r="3.05" fill="#f28c28"/>
<circle cx="359.02" cy="199.90" r="3.05" fill="#f28c28"/>
<circle cx="380.15" cy="211.70" r="3.05" fill="#f28c28"/>
<circle cx="401.27" cy="254.30" r="3.05" fill="#f28c28"/>
<circle cx="422.40" cy="289.40" r="3.05" fill="#f28c28"/>
<circle cx="443.52" cy="299.60" r="3.05" fill="#f28c28"/>
<circle cx="464.65" cy="297.80" r="3.05" fill="#f28c28"/>
<circle cx="485.77" cy="347.50" r="3.05" fill="#f28c28"/>
<circle cx="84.40" cy="383.70" r="3.05" fill="#0f8522"/>
<circle cx="105.53" cy="388.10" r="3.05" fill="#0f8522"/>
<circle cx="126.65" cy="374.40" r="3.05" fill="#0f8522"/>
<circle cx="147.78" cy="377.10" r="3.05" fill="#0f8522"/>
<circle cx="168.90" cy="371.20" r="3.05" fill="#0f8522"/>
<circle cx="190.02" cy="367.60" r="3.05" fill="#0f8522"/>
<circle cx="211.15" cy="343.50" r="3.05" fill="#0f8522"/>
<circle cx="232.28" cy="381.70" r="3.05" fill="#0f8522"/>
<circle cx="253.40" cy="361.10" r="3.05" fill="#0f8522"/>
<circle cx="274.52" cy="374.80" r="3.05" fill="#0f8522"/>
<circle cx="295.65" cy="294.90" r="3.05" fill="#0f8522"/>
<circle cx="316.77" cy="324.20" r="3.05" fill="#0f8522"/>
<circle cx="337.90" cy="348.20" r="3.05" fill="#0f8522"/>
<circle cx="359.02" cy="311.10" r="3.05" fill="#0f8522"/>
<circle cx="380.15" cy="265.00" r="3.05" fill="#0f8522"/>
<circle cx="401.27" cy="276.50" r="3.05" fill="#0f8522"/>
<circle cx="422.40" cy="299.30" r="3.05" fill="#0f8522"/>
<circle cx="443.52" cy="339.30" r="3.05" fill="#0f8522"/>
<circle cx="464.65" cy="326.50" r="3.05" fill="#0f8522"/>
<circle cx="485.77" cy="339.30" r="3.05" fill="#0f8522"/>
<circle cx="84.40" cy="336.10" r="3.05" fill="#1a8ac0"/>
<circle cx="105.53" cy="338.90" r="3.05" fill="#1a8ac0"/>
<circle cx="126.65" cy="333.50" r="3.05" fill="#1a8ac0"/>
<circle cx="147.78" cy="331.90" r="3.05" fill="#1a8ac0"/>
<circle cx="168.90" cy="327.20" r="3.05" fill="#1a8ac0"/>
<circle cx="190.02" cy="308.40" r="3.05" fill="#1a8ac0"/>
<circle cx="211.15" cy="286.00" r="3.05" fill="#1a8ac0"/>
<circle cx="232.28" cy="298.80" r="3.05" fill="#1a8ac0"/>
<circle cx="253.40" cy="296.30" r="3.05" fill="#1a8ac0"/>
<circle cx="274.52" cy="295.40" r="3.05" fill="#1a8ac0"/>
<circle cx="295.65" cy="283.80" r="3.05" fill="#1a8ac0"/>
<circle cx="316.77" cy="296.60" r="3.05" fill="#1a8ac0"/>
<circle cx="337.90" cy="297.10" r="3.05" fill="#1a8ac0"/>
<circle cx="359.02" cy="288.50" r="3.05" fill="#1a8ac0"/>
<circle cx="380.15" cy="300.50" r="3.05" fill="#1a8ac0"/>
<circle cx="401.27" cy="284.90" r="3.05" fill="#1a8ac0"/>
<circle cx="422.40" cy="310.00" r="3.05" fill="#1a8ac0"/>
<circle cx="443.52" cy="317.60" r="3.05" fill="#1a8ac0"/>
<circle cx="464.65" cy="319.40" r="3.05" fill="#1a8ac0"/>
<circle cx="485.77" cy="344.40" r="3.05" fill="#1a8ac0"/>
<circle cx="84.40" cy="253.40" r="3.05" fill="#d52b63"/>
<circle cx="105.53" cy="332.40" r="3.05" fill="#d52b63"/>
<circle cx="126.65" cy="346.20" r="3.05" fill="#d52b63"/>
<circle cx="147.78" cy="339.00" r="3.05" fill="#d52b63"/>
<circle cx="168.90" cy="386.70" r="3.05" fill="#d52b63"/>
<circle cx="190.02" cy="326.80" r="3.05" fill="#d52b63"/>
<circle cx="211.15" cy="288.80" r="3.05" fill="#d52b63"/>
<circle cx="232.28" cy="342.60" r="3.05" fill="#d52b63"/>
<circle cx="253.40" cy="357.90" r="3.05" fill="#d52b63"/>
<circle cx="274.52" cy="300.50" r="3.05" fill="#d52b63"/>
<circle cx="295.65" cy="349.50" r="3.05" fill="#d52b63"/>
<circle cx="316.77" cy="369.50" r="3.05" fill="#d52b63"/>
<circle cx="337.90" cy="367.70" r="3.05" fill="#d52b63"/>
<circle cx="359.02" cy="347.10" r="3.05" fill="#d52b63"/>
<circle cx="380.15" cy="364.40" r="3.05" fill="#d52b63"/>
<circle cx="401.27" cy="334.20" r="3.05" fill="#d52b63"/>
<circle cx="422.40" cy="360.00" r="3.05" fill="#d52b63"/>
<circle cx="443.52" cy="340.60" r="3.05" fill="#d52b63"/>
<circle cx="464.65" cy="355.90" r="3.05" fill="#d52b63"/>
<circle cx="485.77" cy="359.40" r="3.05" fill="#d52b63"/>
<circle cx="84.40" cy="296.10" r="3.05" fill="#d5301a"/>
<circle cx="105.53" cy="349.00" r="3.05" fill="#d5301a"/>
<circle cx="126.65" cy="332.70" r="3.05" fill="#d5301a"/>
<circle cx="147.78" cy="402.80" r="3.05" fill="#d5301a"/>
<circle cx="168.90" cy="357.50" r="3.05" fill="#d5301a"/>
<circle cx="190.02" cy="378.40" r="3.05" fill="#d5301a"/>
<circle cx="211.15" cy="318.40" r="3.05" fill="#d5301a"/>
<circle cx="232.28" cy="355.50" r="3.05" fill="#d5301a"/>
<circle cx="253.40" cy="379.90" r="3.05" fill="#d5301a"/>
<circle cx="274.52" cy="381.00" r="3.05" fill="#d5301a"/>
<circle cx="295.65" cy="392.60" r="3.05" fill="#d5301a"/>
<circle cx="316.77" cy="395.50" r="3.05" fill="#d5301a"/>
<circle cx="337.90" cy="362.20" r="3.05" fill="#d5301a"/>
<circle cx="359.02" cy="361.10" r="3.05" fill="#d5301a"/>
<circle cx="380.15" cy="371.10" r="3.05" fill="#d5301a"/>
<circle cx="401.27" cy="351.50" r="3.05" fill="#d5301a"/>
<circle cx="422.40" cy="352.20" r="3.05" fill="#d5301a"/>
<circle cx="443.52" cy="331.20" r="3.05" fill="#d5301a"/>
<circle cx="464.65" cy="397.00" r="3.05" fill="#d5301a"/>
<circle cx="485.77" cy="386.60" r="3.05" fill="#d5301a"/>
<circle cx="84.40" cy="342.20" r="3.05" fill="#2d52a6"/>
<circle cx="105.53" cy="372.40" r="3.05" fill="#2d52a6"/>
<circle cx="126.65" cy="383.70" r="3.05" fill="#2d52a6"/>
<circle cx="147.78" cy="337.70" r="3.05" fill="#2d52a6"/>
<circle cx="168.90" cy="353.50" r="3.05" fill="#2d52a6"/>
<circle cx="190.02" cy="353.50" r="3.05" fill="#2d52a6"/>
<circle cx="211.15" cy="348.40" r="3.05" fill="#2d52a6"/>
<circle cx="232.28" cy="372.70" r="3.05" fill="#2d52a6"/>
<circle cx="253.40" cy="347.80" r="3.05" fill="#2d52a6"/>
<circle cx="274.52" cy="346.50" r="3.05" fill="#2d52a6"/>
<circle cx="295.65" cy="367.60" r="3.05" fill="#2d52a6"/>
<circle cx="316.77" cy="370.30" r="3.05" fill="#2d52a6"/>
<circle cx="337.90" cy="303.60" r="3.05" fill="#2d52a6"/>
<circle cx="359.02" cy="282.50" r="3.05" fill="#2d52a6"/>
<circle cx="380.15" cy="283.30" r="3.05" fill="#2d52a6"/>
<circle cx="401.27" cy="365.10" r="3.05" fill="#2d52a6"/>
<circle cx="422.40" cy="330.40" r="3.05" fill="#2d52a6"/>
<circle cx="443.52" cy="302.30" r="3.05" fill="#2d52a6"/>
<circle cx="464.65" cy="257.80" r="3.05" fill="#2d52a6"/>
<circle cx="485.77" cy="335.60" r="3.05" fill="#2d52a6"/>
<rect x="64.8" y="3.8" width="440.20" height="448.70" fill="none" stroke="#b0b0b0" stroke-width="1.8"/>
<text x="58.3" y="409.40" text-anchor="end" font-size="20.5" fill="#262626" stroke="#262626" stroke-width="0.35" textLength="10.3" lengthAdjust="spacingAndGlyphs">0</text>
<text x="58.3" y="318.50" text-anchor="end" font-size="20.5" fill="#262626" stroke="#262626" stroke-width="0.35" textLength="21.6" lengthAdjust="spacingAndGlyphs">10</text>
<text x="58.3" y="227.60" text-anchor="end" font-size="20.5" fill="#262626" stroke="#262626" stroke-width="0.35" textLength="21.6" lengthAdjust="spacingAndGlyphs">20</text>
<text x="58.3" y="136.70" text-anchor="end" font-size="20.5" fill="#262626" stroke="#262626" stroke-width="0.35" textLength="21.6" lengthAdjust="spacingAndGlyphs">30</text>
<text x="58.3" y="45.80" text-anchor="end" font-size="20.5" fill="#262626" stroke="#262626" stroke-width="0.35" textLength="21.6" lengthAdjust="spacingAndGlyphs">40</text>
<text x="147.47" y="474.8" text-anchor="middle" font-size="21" fill="#262626" stroke="#262626" stroke-width="0.35" textLength="44" lengthAdjust="spacingAndGlyphs">1720</text>
<text x="231.97" y="474.8" text-anchor="middle" font-size="21" fill="#262626" stroke="#262626" stroke-width="0.35" textLength="44" lengthAdjust="spacingAndGlyphs">1740</text>
<text x="316.47" y="474.8" text-anchor="middle" font-size="21" fill="#262626" stroke="#262626" stroke-width="0.35" textLength="44" lengthAdjust="spacingAndGlyphs">1760</text>
<text x="400.97" y="474.8" text-anchor="middle" font-size="21" fill="#262626" stroke="#262626" stroke-width="0.35" textLength="44" lengthAdjust="spacingAndGlyphs">1780</text>
<text x="485.47" y="474.8" text-anchor="middle" font-size="21" fill="#262626" stroke="#262626" stroke-width="0.35" textLength="44" lengthAdjust="spacingAndGlyphs">1800</text>
<text x="278.2" y="503.6" text-anchor="middle" font-size="25" fill="#000" stroke="#000" stroke-width="0.35" textLength="55.5" lengthAdjust="spacingAndGlyphs">Years</text>
<text transform="translate(21.9,228) rotate(-90)" x="0" y="0" text-anchor="middle" font-size="24" fill="#000" stroke="#000" stroke-width="0.35" textLength="182" lengthAdjust="spacingAndGlyphs">Canon share (%)</text>
<line x1="548.6" y1="165.00" x2="566.0" y2="165.00" stroke="#2d52a6" stroke-width="2.4" stroke-linecap="round"/>
<circle cx="557.3" cy="165.00" r="3.3499999999999996" fill="#2d52a6"/>
<text x="582.6" y="172.70" font-size="20.3" fill="#000" stroke="#000" stroke-width="0.35">Boston</text>
<line x1="548.6" y1="188.23" x2="566.0" y2="188.23" stroke="#d5301a" stroke-width="2.4" stroke-linecap="round"/>
<circle cx="557.3" cy="188.23" r="3.3499999999999996" fill="#d5301a"/>
<text x="582.6" y="195.93" font-size="20.3" fill="#000" stroke="#000" stroke-width="0.35">Cambridge</text>
<line x1="548.6" y1="211.46" x2="566.0" y2="211.46" stroke="#f28c28" stroke-width="2.4" stroke-linecap="round"/>
<circle cx="557.3" cy="211.46" r="3.3499999999999996" fill="#f28c28"/>
<text x="582.6" y="219.16" font-size="20.3" fill="#000" stroke="#000" stroke-width="0.35" textLength="60.5" lengthAdjust="spacingAndGlyphs">Dublin</text>
<line x1="548.6" y1="234.69" x2="566.0" y2="234.69" stroke="#0f8522" stroke-width="2.4" stroke-linecap="round"/>
<circle cx="557.3" cy="234.69" r="3.3499999999999996" fill="#0f8522"/>
<text x="582.6" y="242.39" font-size="20.3" fill="#000" stroke="#000" stroke-width="0.35" textLength="95.3" lengthAdjust="spacingAndGlyphs">Edinburgh</text>
<line x1="548.6" y1="257.92" x2="566.0" y2="257.92" stroke="#8b1183" stroke-width="2.4" stroke-linecap="round"/>
<circle cx="557.3" cy="257.92" r="3.3499999999999996" fill="#8b1183"/>
<text x="582.6" y="265.62" font-size="20.3" fill="#000" stroke="#000" stroke-width="0.35" textLength="77.4" lengthAdjust="spacingAndGlyphs">Glasgow</text>
<line x1="548.6" y1="281.15" x2="566.0" y2="281.15" stroke="#1a8ac0" stroke-width="2.4" stroke-linecap="round"/>
<circle cx="557.3" cy="281.15" r="3.3499999999999996" fill="#1a8ac0"/>
<text x="582.6" y="288.85" font-size="20.3" fill="#000" stroke="#000" stroke-width="0.35" textLength="69.6" lengthAdjust="spacingAndGlyphs">London</text>
<line x1="548.6" y1="304.38" x2="566.0" y2="304.38" stroke="#d52b63" stroke-width="2.4" stroke-linecap="round"/>
<circle cx="557.3" cy="304.38" r="3.3499999999999996" fill="#d52b63"/>
<text x="582.6" y="312.08" font-size="20.3" fill="#000" stroke="#000" stroke-width="0.35">Oxford</text>
</svg>
</body></html>
